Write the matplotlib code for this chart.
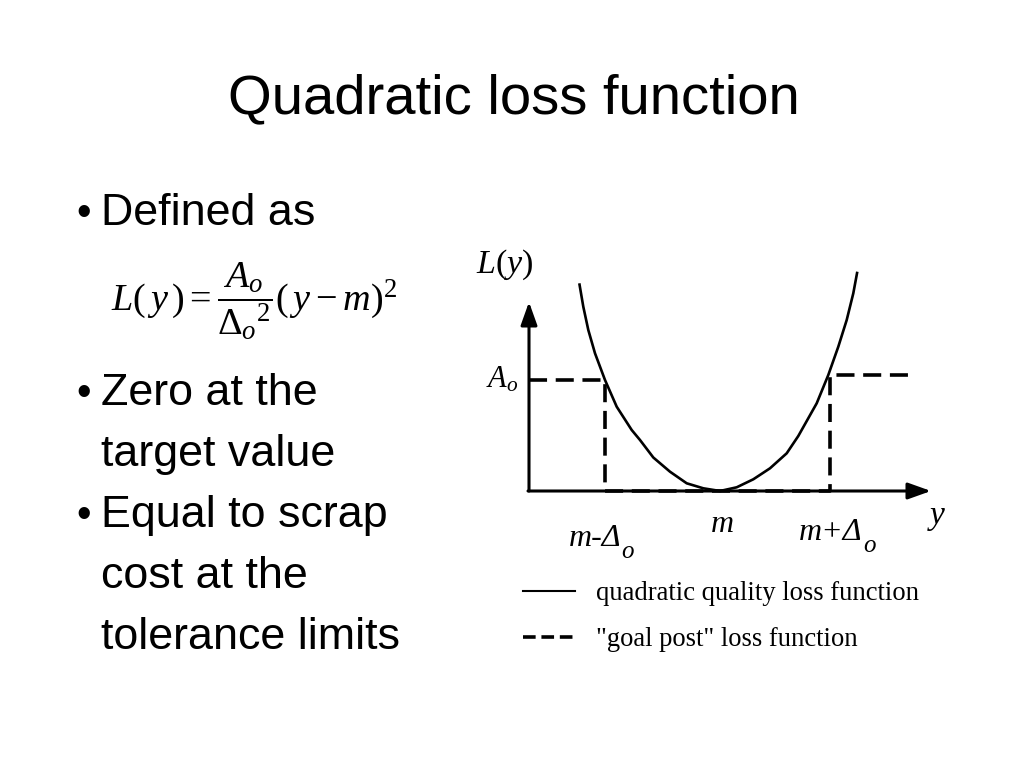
import matplotlib
matplotlib.use("Agg")
import matplotlib.pyplot as plt
from matplotlib.lines import Line2D

plt.rcParams['mathtext.fontset'] = 'custom'
plt.rcParams['mathtext.rm'] = 'Liberation Serif'
plt.rcParams['mathtext.it'] = 'Liberation Serif:italic'
plt.rcParams['mathtext.bf'] = 'Liberation Serif:bold'

# slide text
title = "Quadratic loss function"
bullets = [("Defined as",), ("Zero at the", "target value"),
           ("Equal to scrap", "cost at the", "tolerance limits")]

# quadratic loss curve (y offset, L value)
curve_y = [50.3, 54.3, 59.3, 66, 76, 87.7, 102.7, 111, 124.3, 141, 157.7,
           174.3, 191, 207.7, 224.3, 241, 257.7, 269.3, 287.7,
           299.3, 309.3, 317.7, 324.3, 328.3]
curve_L = [207.7, 184.3, 161, 137.7, 111, 84.3, 61, 51, 33.5, 19.3, 7.7,
           2.7, 0, 3.7, 11.7, 22.7, 37.7, 55, 87.7,
           116, 144.3, 171, 197.7, 219.3]

# "goal post" loss function
post_y = [0, 76, 76, 301, 301, 386]
post_L = [111, 111, 0, 0, 116, 116]

# axis marks
m_lo, m_mid, m_hi = 76, 193, 301
A_o = 111
legend_labels = ["quadratic quality loss function", '"goal post" loss function']

W, H = 1024, 768
fig = plt.figure(figsize=(W / 100, H / 100), dpi=100)
fig.patch.set_facecolor("white")

sans = "Liberation Sans"
serif = "Liberation Serif"

fig.text(514 / W, 1 - 113 / H, title, ha="center", va="baseline",
         fontsize=40.5, family=sans)

# bullet lines
base_y = [225, 405, 527]
for start, lines in zip(base_y, bullets):
    fig.text(76 / W, 1 - start / H, "\u2022", ha="left", va="baseline",
             fontsize=30, family=sans)
    for i, line in enumerate(lines):
        fig.text(101 / W, 1 - (start + 61 * i) / H, line, ha="left",
                 va="baseline", fontsize=32.3, family=sans)

# formula
fig.text(111 / W, 1 - 301 / H,
         r"$L(\,y\,) = \dfrac{A_o}{{\Delta_o}^{2}}(\,y - m)^2$",
         ha="left", va="center", fontsize=27.5)

# diagram axes: data units are pixels measured from the origin
ox, oy = 529, 491
left, right, top, bottom = 460, 970, 245, 665
ax = fig.add_axes([left / W, 1 - bottom / H, (right - left) / W, (bottom - top) / H])
ax.set_xlim(left - ox, right - ox)
ax.set_ylim(oy - bottom, oy - top)
ax.axis("off")

curve, = ax.plot(curve_y, curve_L, color="black", lw=1.9,
                 solid_joinstyle="round", solid_capstyle="butt", zorder=3)
post, = ax.plot(post_y, post_L, color="black", lw=2.6, dashes=(5, 2.4), zorder=2)

arrow = dict(arrowstyle="-|>,head_length=1.4,head_width=0.5", lw=2.2,
             color="black", shrinkA=0, shrinkB=0, mutation_scale=10)
ax.annotate("", xy=(0, 189), xytext=(0, 0), arrowprops=arrow)
ax.annotate("", xy=(402, 0), xytext=(-1, 0), arrowprops=arrow)

ax.text(-24, 226, r"$L(y)$", ha="center", va="center", fontsize=24.5)
ax.text(-27, A_o + 1, r"$A_o$", ha="center", va="center", fontsize=22)
ax.text(408, -25, "y", ha="center", va="center", fontsize=24,
        family=serif, style="italic")
ax.text(m_mid, -33, "m", ha="center", va="center", fontsize=23,
        family=serif, style="italic")

t1 = ax.text(m_lo - 10, -48, "m-\u0394", ha="center", va="center", fontsize=23,
             family=serif, style="italic")
ax.annotate("o", xy=(1, 0.05), xycoords=t1, ha="left", va="center",
            fontsize=18, family=serif, style="italic")
t2 = ax.text(m_hi + 1, -42, "m+\u0394", ha="center", va="center", fontsize=23,
             family=serif, style="italic")
ax.annotate("o", xy=(1, 0.05), xycoords=t2, ha="left", va="center",
            fontsize=18, family=serif, style="italic")

h1 = Line2D([], [], color="black", lw=1.5)
h2 = Line2D([], [], color="black", lw=2.6, dashes=(3.5, 1.6))
ax.legend([h1, h2], legend_labels, loc="upper left",
          bbox_to_anchor=(523 / W, 1 - 581 / H), bbox_transform=fig.transFigure,
          frameon=False, prop={"family": serif, "size": 19.2},
          handlelength=1.95, handletextpad=0.8, labelspacing=0.8,
          borderpad=0, borderaxespad=0)

fig.savefig("out.png", dpi=100, facecolor="white")
